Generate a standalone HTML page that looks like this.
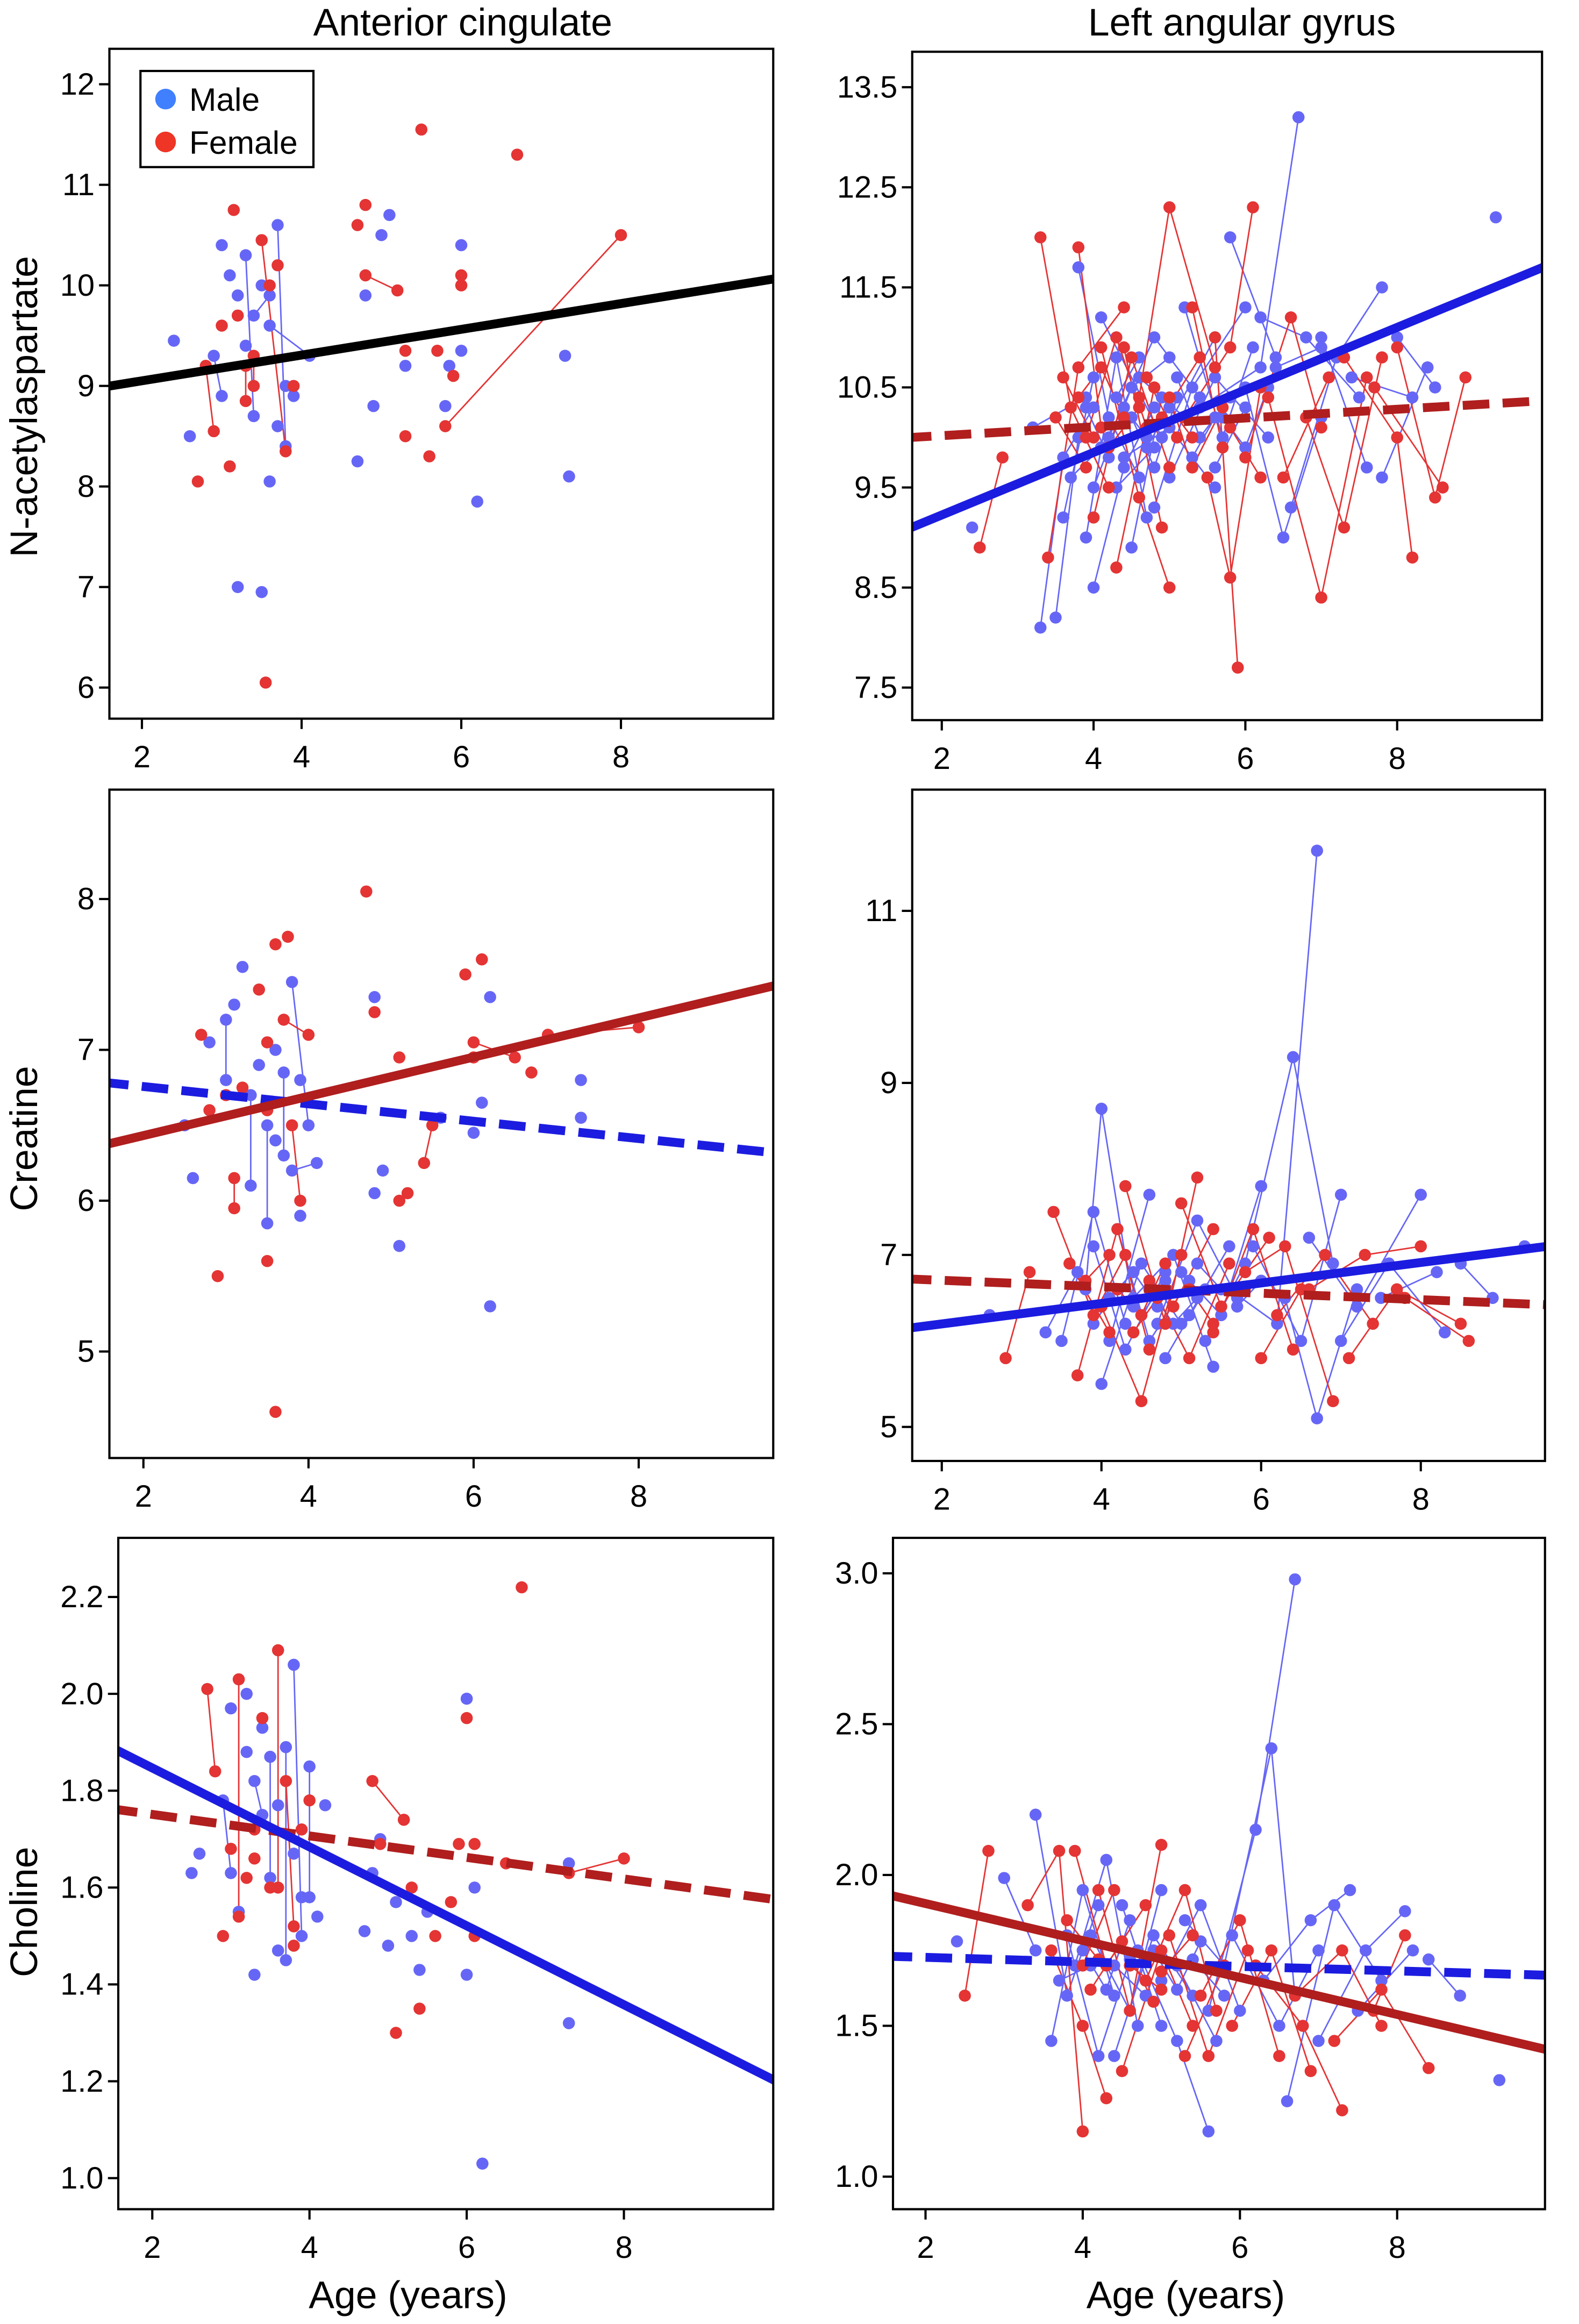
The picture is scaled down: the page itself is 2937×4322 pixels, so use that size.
<!DOCTYPE html>
<html><head><meta charset="utf-8">
<style>
html,body{margin:0;padding:0;background:#fff;}
svg{display:block;}
text{font-family:"Liberation Sans",sans-serif;fill:#000;}
</style></head>
<body>
<svg id="chart" xmlns="http://www.w3.org/2000/svg" width="2937" height="4322" viewBox="0 0 1068 1571.64">
<rect width="1068" height="1571.64" fill="#fff"/>
<text x="313" y="24" font-size="26" text-anchor="middle">Anterior cingulate</text>
<text x="840" y="24" font-size="26" text-anchor="middle">Left angular gyrus</text>
<text transform="translate(25,275) rotate(-90)" font-size="26" text-anchor="middle">N-acetylaspartate</text>
<text transform="translate(25,770) rotate(-90)" font-size="26" text-anchor="middle">Creatine</text>
<text transform="translate(25,1293) rotate(-90)" font-size="26" text-anchor="middle">Choline</text>
<text x="276" y="1561" font-size="26" text-anchor="middle">Age (years)</text>
<text x="802" y="1561" font-size="26" text-anchor="middle">Age (years)</text>
</svg>
<script>
// ---- data ----
const xTicks = [2,4,6,8];
const ticksA1 = [6,7,8,9,10,11,12];
const ticksB1 = [7.5,8.5,9.5,10.5,11.5,12.5,13.5];
const ticksA2 = [5,6,7,8];
const ticksB2 = [5,7,9,11];
const ticksA3 = [1.0,1.2,1.4,1.6,1.8,2.0,2.2];
const ticksB3 = [1.0,1.5,2.0,2.5,3.0];

const maleA1 = [[[2.4,9.45]],[[2.6,8.5]],[[2.9,9.3],[3.0,8.9]],[[3.0,10.4]],[[3.1,10.1]],[[3.2,9.9]],[[3.3,10.3],[3.4,8.7]],[[3.4,9.7],[3.6,9.9]],[[3.5,10.0]],[[3.6,9.6],[4.1,9.3]],[[3.7,10.6],[3.8,8.4]],[[3.8,9.0],[3.9,8.9]],[[3.7,8.6]],[[3.6,8.05]],[[3.2,7.0]],[[3.5,6.95]],[[3.3,9.4]],[[4.7,8.25]],[[4.8,9.9]],[[4.9,8.8]],[[5.0,10.5]],[[5.1,10.7]],[[5.3,9.2]],[[5.8,8.8]],[[6.0,10.4]],[[6.0,9.35]],[[6.2,7.85]],[[5.85,9.2]],[[7.3,9.3]],[[7.35,8.1]]];
const femaleA1 = [[[2.7,8.05]],[[2.8,9.2],[2.9,8.55]],[[3.0,9.6]],[[3.1,8.2]],[[3.15,10.75]],[[3.2,9.7]],[[3.3,9.2],[3.3,8.85]],[[3.4,9.0],[3.4,9.3]],[[3.5,10.45],[3.8,8.35]],[[3.6,10.0]],[[3.7,10.2]],[[3.9,9.0]],[[3.55,6.05]],[[4.7,10.6]],[[4.8,10.8]],[[4.8,10.1],[5.2,9.95]],[[5.3,9.35]],[[5.5,11.55]],[[5.3,8.5]],[[5.6,8.3]],[[5.7,9.35]],[[6.0,10.0]],[[6.0,10.1]],[[5.9,9.1]],[[5.8,8.6],[8.0,10.5]],[[6.7,11.3]]];
const fitA1 = [{slope:0.128, intercept:8.795, color:'#000', dash:false}];

const maleB1 = [[[3.3,8.1],[3.6,9.8],[4.0,10.3]],[[3.5,8.2],[3.8,10.0]],[[3.8,11.7],[4.2,10.2],[4.6,9.6]],[[4.0,9.5],[4.5,10.5],[5.0,10.8]],[[4.2,10.0],[4.8,11.0],[5.4,10.4]],[[4.4,9.8],[5.0,10.1],[5.6,9.5]],[[4.6,10.6],[5.2,10.2]],[[4.8,9.3],[5.3,10.5],[6.0,11.3]],[[5.0,9.6],[5.6,10.6],[6.3,10.0]],[[5.4,10.3],[6.2,10.7],[6.7,13.2]],[[5.8,12.0],[6.4,10.8]],[[6.0,10.5],[6.5,9.0],[7.0,10.2]],[[6.2,11.2],[6.8,11.0],[7.5,10.4]],[[6.6,9.3],[7.2,10.8],[7.8,11.5]],[[7.0,11.0],[7.6,9.7]],[[7.4,10.6],[8.2,10.4]],[[8.0,11.0],[8.5,10.5]],[[9.3,12.2]],[[2.4,9.1]],[[3.2,10.1],[3.9,10.4]],[[3.9,9.0],[4.3,10.8],[4.7,9.2]],[[4.1,11.2],[4.9,10.0],[5.6,11.0]],[[4.3,9.5],[4.8,9.9]],[[5.2,11.3],[5.7,10.0],[6.1,10.9]],[[5.6,9.7],[6.0,10.3]],[[6.4,10.7],[7.0,10.9]],[[3.6,9.2],[4.0,10.6]],[[4.5,8.9],[4.9,10.4]],[[7.8,9.6],[8.4,10.7]],[[4.0,8.5],[4.4,9.7],[4.8,10.3]],[[4.1,9.9],[4.4,10.3],[4.7,10.0]],[[4.5,10.2],[4.8,9.7],[5.1,10.4]],[[5.1,10.6],[5.4,10.0],[5.8,10.4]],[[3.9,10.3],[4.2,9.8]],[[4.7,9.9],[5.0,10.3]],[[5.7,10.2],[6.0,9.9],[6.3,10.5]],[[4.3,10.4],[4.6,10.8]],[[3.7,9.6],[4.1,9.9]],[[5.3,9.8],[5.6,10.2]]];
const femaleB1 = [[[2.5,8.9],[2.8,9.8]],[[3.3,12.0],[3.7,10.3],[4.2,9.5]],[[3.4,8.8],[3.8,10.7],[4.4,11.3]],[[3.8,11.9],[4.1,10.1]],[[4.0,9.2],[4.5,10.8],[5.0,9.7]],[[4.3,8.7],[4.8,10.5],[5.3,10.0]],[[4.6,10.4],[5.0,12.3],[5.6,10.7]],[[4.1,10.9],[4.6,9.4],[5.0,8.5]],[[5.2,10.2],[5.8,10.9],[6.1,12.3]],[[5.5,9.6],[5.8,8.6],[6.2,10.5]],[[5.6,11.0],[5.9,7.7]],[[6.0,9.8],[6.6,11.2],[7.0,10.1]],[[6.3,10.4],[7.0,8.4],[7.6,10.6]],[[6.8,10.2],[7.3,9.1],[7.8,10.8]],[[7.3,10.8],[8.0,10.0],[8.2,8.8]],[[7.7,10.5],[8.6,9.5]],[[8.0,10.9],[8.5,9.4],[8.9,10.6]],[[3.6,10.6],[4.0,10.0]],[[4.4,10.9],[4.9,9.1]],[[4.9,10.2],[5.4,10.8]],[[5.3,11.3],[5.7,9.9]],[[3.9,10.0],[4.3,11.0],[4.7,10.1]],[[6.5,9.6],[7.1,10.6]],[[3.8,10.4],[4.1,10.7],[4.4,10.2]],[[4.2,9.9],[4.6,10.3]],[[4.7,10.6],[5.1,10.0]],[[5.0,10.4],[5.3,9.7],[5.7,10.3]],[[3.5,10.2],[3.9,9.7]],[[5.8,10.1],[6.2,9.6]]];
const fitB1 = [{slope:0.044, intercept:9.93, color:'#b01e1e', dash:true},{slope:0.3125, intercept:8.6, color:'#1c1ce0', dash:false}];

const maleA2 = [[[2.5,6.5]],[[2.6,6.15]],[[2.8,7.05]],[[3.0,7.2],[3.0,6.8]],[[3.1,7.3]],[[3.2,7.55]],[[3.3,6.7],[3.3,6.1]],[[3.4,6.9]],[[3.5,6.5],[3.5,5.85]],[[3.6,6.4]],[[3.6,7.0]],[[3.7,6.85],[3.7,6.3]],[[3.8,7.45],[4.0,6.5]],[[3.9,6.8]],[[4.1,6.25],[3.8,6.2]],[[3.9,5.9]],[[4.8,7.35]],[[4.8,6.05]],[[4.9,6.2]],[[5.1,5.7]],[[5.6,6.55]],[[6.0,6.45]],[[6.1,6.65]],[[6.2,7.35]],[[6.2,5.3]],[[7.3,6.55]],[[7.3,6.8]]];
const femaleA2 = [[[2.7,7.1]],[[2.8,6.6]],[[2.9,5.5]],[[3.0,6.7]],[[3.1,6.15],[3.1,5.95]],[[3.2,6.75]],[[3.4,7.4]],[[3.5,6.6]],[[3.5,5.6]],[[3.6,7.7]],[[3.7,7.2],[4.0,7.1]],[[3.75,7.75]],[[3.8,6.5],[3.9,6.0]],[[3.5,7.05]],[[3.6,4.6]],[[4.7,8.05]],[[4.8,7.25]],[[5.1,6.95]],[[5.1,6.0],[5.2,6.05]],[[5.4,6.25],[5.5,6.5]],[[5.9,7.5]],[[6.0,7.05],[6.5,6.95]],[[6.1,7.6]],[[6.0,6.95]],[[6.7,6.85]],[[6.9,7.1],[8.0,7.15]]];
const fitA2 = [{slope:-0.0575, intercept:6.872, color:'#1c1ce0', dash:true},{slope:0.13, intercept:6.172, color:'#b01e1e', dash:false}];

const maleB2 = [[[3.5,6.0],[3.9,7.5],[4.3,6.2]],[[3.8,6.6],[4.0,8.7],[4.4,6.4]],[[4.0,5.5],[4.5,6.9],[5.0,6.2]],[[4.2,7.3],[4.6,6.0],[5.1,6.7]],[[4.4,6.5],[4.9,7.0],[5.4,5.7]],[[4.7,6.2],[5.2,7.4],[5.7,6.5]],[[5.0,6.8],[5.5,6.3],[6.0,7.8]],[[5.3,6.0],[5.8,6.9],[6.4,9.3],[6.9,6.9]],[[5.6,6.6],[6.2,6.2],[6.7,11.7]],[[5.9,7.1],[6.5,6.0],[7.0,7.7]],[[6.3,6.5],[6.7,5.1],[7.2,6.6]],[[6.6,7.2],[7.2,6.4],[8.0,7.7]],[[7.0,6.0],[7.6,6.9],[8.3,6.1]],[[7.5,6.5],[8.2,6.8]],[[3.3,6.1],[3.7,6.8]],[[4.1,6.0],[4.6,7.7]],[[4.8,5.8],[5.3,6.6]],[[8.5,6.9],[8.9,6.5]],[[9.3,7.1]],[[2.6,6.3]],[[3.9,7.1],[4.3,5.9],[4.8,6.8]],[[5.1,6.3],[5.6,7.1]],[[4.1,6.5],[4.4,6.8],[4.7,6.4]],[[4.6,6.6],[4.9,6.2],[5.2,6.5]],[[5.2,6.9],[5.5,6.6]],[[3.9,6.2],[4.2,6.6]],[[4.5,6.3],[4.8,6.7]],[[5.7,6.4],[6.0,6.7]]];
const femaleB2 = [[[2.8,5.8],[3.1,6.8]],[[3.4,7.5],[3.9,6.3],[4.3,7.0]],[[3.7,5.6],[4.2,7.3],[4.6,5.9]],[[4.0,6.4],[4.5,5.3],[5.0,7.0]],[[4.3,7.8],[4.8,6.2],[5.2,7.9]],[[4.6,6.7],[5.1,5.8],[5.6,6.9]],[[5.0,7.6],[5.5,6.4],[6.1,7.2]],[[5.4,6.1],[5.9,7.3],[6.4,5.9]],[[5.8,6.8],[6.3,7.1],[6.9,5.3]],[[6.2,6.3],[6.8,7.0],[7.4,6.2]],[[6.6,6.6],[7.3,7.0],[8.0,7.1]],[[7.1,5.8],[7.7,6.6],[8.5,6.2]],[[7.8,6.5],[8.6,6.0]],[[3.6,6.9],[4.1,6.1]],[[4.9,6.4],[5.4,7.3]],[[6.0,5.8],[6.5,6.6]],[[4.2,6.6],[4.5,6.3],[4.8,6.9]],[[4.4,6.1],[4.7,6.5]],[[5.1,6.6],[5.4,6.2]],[[3.8,6.7],[4.1,7.0]]];
const fitB2 = [{slope:-0.0375, intercept:6.78, color:'#b01e1e', dash:true},{slope:0.119, intercept:5.96, color:'#1c1ce0', dash:false}];

const maleA3 = [[[2.5,1.63]],[[2.6,1.67]],[[2.9,1.78],[3.0,1.63]],[[3.0,1.97]],[[3.1,1.55]],[[3.2,2.0]],[[3.3,1.42]],[[3.3,1.82],[3.4,1.75]],[[3.4,1.93]],[[3.5,1.87],[3.5,1.62]],[[3.6,1.47]],[[3.6,1.77]],[[3.7,1.89],[3.7,1.45]],[[3.8,2.06],[3.9,1.5]],[[3.8,1.67]],[[3.9,1.58]],[[4.0,1.85],[4.0,1.58]],[[4.1,1.54]],[[4.2,1.77]],[[4.7,1.51]],[[4.8,1.63]],[[4.9,1.7]],[[5.0,1.48]],[[5.1,1.57]],[[5.3,1.5]],[[5.4,1.43]],[[5.5,1.55]],[[6.0,1.99]],[[6.0,1.42]],[[6.1,1.6]],[[6.2,1.03]],[[7.3,1.32]],[[7.3,1.65]],[[3.2,1.88]]];
const femaleA3 = [[[2.7,2.01],[2.8,1.84]],[[2.9,1.5]],[[3.0,1.68]],[[3.1,2.03],[3.1,1.54]],[[3.2,1.62]],[[3.3,1.72]],[[3.4,1.95]],[[3.5,1.6]],[[3.6,2.09],[3.6,1.6]],[[3.7,1.82],[3.8,1.52]],[[3.8,1.48]],[[3.9,1.72]],[[4.0,1.78]],[[4.8,1.82],[5.2,1.74]],[[4.9,1.69]],[[5.1,1.3]],[[5.3,1.6]],[[5.4,1.35]],[[5.6,1.5]],[[5.8,1.57]],[[5.9,1.69]],[[6.0,1.95]],[[6.1,1.69]],[[6.1,1.5]],[[6.5,1.65]],[[6.7,2.22]],[[7.3,1.63],[8.0,1.66]],[[3.3,1.66]]];
const fitA3 = [{slope:-0.0222, intercept:1.7955, color:'#b01e1e', dash:true},{slope:-0.0815, intercept:2.01, color:'#1c1ce0', dash:false}];

const maleB3 = [[[2.4,1.78]],[[3.0,1.99],[3.4,1.75]],[[3.4,2.2],[3.8,1.6],[4.2,1.9]],[[3.6,1.45],[4.0,1.95],[4.4,1.6]],[[3.9,1.7],[4.3,2.05],[4.7,1.5]],[[4.1,1.8],[4.6,1.55],[5.0,1.95]],[[4.4,1.4],[4.9,1.8],[5.4,1.6]],[[4.7,1.75],[5.2,1.45],[5.6,1.15]],[[5.0,1.65],[5.5,1.9],[6.0,1.55]],[[5.3,1.85],[5.8,1.7],[6.4,2.42],[6.7,1.6]],[[5.6,1.55],[6.2,2.15],[6.7,2.98]],[[5.9,1.8],[6.5,1.5],[7.0,1.75]],[[6.3,1.65],[6.9,1.85],[7.4,1.95]],[[6.6,1.25],[7.2,1.9],[7.8,1.65]],[[7.0,1.45],[7.6,1.75],[8.1,1.88]],[[7.5,1.55],[8.2,1.75]],[[8.4,1.72],[8.8,1.6]],[[9.3,1.32]],[[3.8,1.8],[4.2,1.4],[4.6,1.72]],[[4.5,1.9],[5.0,1.5]],[[5.2,1.7],[5.7,1.45]],[[4.0,1.75],[4.3,1.62],[4.6,1.85]],[[4.4,1.7],[4.8,1.6]],[[4.9,1.75],[5.2,1.62],[5.5,1.78]],[[3.7,1.65],[4.1,1.7]],[[5.4,1.72],[5.8,1.6]]];
const femaleB3 = [[[2.5,1.6],[2.8,2.08]],[[3.3,1.9],[3.7,2.08],[4.0,1.15]],[[3.6,1.75],[4.0,1.5],[4.3,1.26]],[[3.9,2.08],[4.3,1.7],[4.8,1.9]],[[4.2,1.95],[4.6,1.55],[5.0,2.1]],[[4.5,1.35],[5.0,1.75],[5.4,1.5]],[[4.8,1.65],[5.3,1.95],[5.7,1.55]],[[5.1,1.8],[5.6,1.4],[6.1,1.75]],[[5.5,1.6],[6.0,1.85],[6.5,1.4]],[[5.9,1.5],[6.4,1.75],[6.9,1.35]],[[6.2,1.7],[6.8,1.5],[7.3,1.22]],[[6.7,1.6],[7.3,1.75],[7.8,1.5]],[[7.2,1.45],[7.8,1.62],[8.4,1.36]],[[7.7,1.55],[8.1,1.8]],[[4.0,1.7],[4.4,1.95]],[[5.3,1.4],[5.8,1.7]],[[4.1,1.62],[4.5,1.78],[4.9,1.58]],[[4.6,1.7],[5.0,1.62]],[[3.8,1.85],[4.2,1.72]],[[5.0,1.68],[5.4,1.8]]];
const fitB3 = [{slope:-0.0075, intercept:1.742, color:'#1c1ce0', dash:true},{slope:-0.0613, intercept:2.028, color:'#b01e1e', dash:false}];

// ---- layout ----
const NS = 'http://www.w3.org/2000/svg';
const svg = document.getElementById('chart');
const MALE = '#6666f6', FEMALE = '#e43434';
function mk(tag, attrs, parent){ const e = document.createElementNS(NS, tag); for (const k in attrs) e.setAttribute(k, attrs[k]); (parent||svg).appendChild(e); return e; }

const panels = [
  {id:'naa-anterior-cingulate', box:[74,33,523,486], xp:[2,96,8,420], yp:[12,57,6,465], yt:ticksA1, dec:0, male:maleA1, female:femaleA1, fits:fitA1, legend:true},
  {id:'naa-left-angular', box:[617,35,1043,487], xp:[2,637,8,945], yp:[13.5,59,7.5,465], yt:ticksB1, dec:1, male:maleB1, female:femaleB1, fits:fitB1},
  {id:'creatine-anterior-cingulate', box:[74,534,523,986], xp:[2,97,8,432], yp:[8,608,5,914], yt:ticksA2, dec:0, male:maleA2, female:femaleA2, fits:fitA2},
  {id:'creatine-left-angular', box:[617,534,1045,988], xp:[2,637,8,961], yp:[11,616,5,965], yt:ticksB2, dec:0, male:maleB2, female:femaleB2, fits:fitB2},
  {id:'choline-anterior-cingulate', box:[80,1040,523,1494], xp:[2,103,8,422], yp:[2.2,1080,1.0,1473], yt:ticksA3, dec:1, male:maleA3, female:femaleA3, fits:fitA3},
  {id:'choline-left-angular', box:[604,1040,1045,1494], xp:[2,626,8,945], yp:[3.0,1064,1.0,1472], yt:ticksB3, dec:1, male:maleB3, female:femaleB3, fits:fitB3}
];

panels.forEach((p, pi) => {
  const [x0,y0,x1,y1] = p.box;
  const sx = v => p.xp[1] + (v - p.xp[0]) * (p.xp[3]-p.xp[1])/(p.xp[2]-p.xp[0]);
  const sy = v => p.yp[1] + (v - p.yp[0]) * (p.yp[3]-p.yp[1])/(p.yp[2]-p.yp[0]);
  const ix = px => p.xp[0] + (px - p.xp[1]) * (p.xp[2]-p.xp[0])/(p.xp[3]-p.xp[1]);
  const g = mk('g', {});
  
  
  const cp = mk('clipPath', {id:'clip'+pi}, g);
  mk('rect', {x:x0, y:y0, width:x1-x0, height:y1-y0}, cp);
  const plot = mk('g', {'clip-path':'url(#clip'+pi+')'}, g);

  [['male', p.male, MALE], ['female', p.female, FEMALE]].forEach(([sex, subs, col]) => {
    subs.forEach(s => {
      if (s.length > 1) {
        const pl = mk('polyline', {points: s.map(d => sx(d[0])+','+sy(d[1])).join(' '), fill:'none', stroke:col, 'stroke-width':1}, plot);
        
        
      }
    });
  });
  [['male', p.male, MALE], ['female', p.female, FEMALE]].forEach(([sex, subs, col]) => {
    subs.forEach(s => s.forEach(d => {
      const c = mk('circle', {cx:sx(d[0]), cy:sy(d[1]), r:4.1, fill:col}, plot);
      
      
    }));
  });
  p.fits.forEach(f => {
    const a = ix(x0-5), b = ix(x1+5);
    const ln = mk('line', {x1:sx(a), y1:sy(f.intercept+f.slope*a), x2:sx(b), y2:sy(f.intercept+f.slope*b), stroke:f.color, 'stroke-width':6, 'stroke-dasharray': f.dash ? '18,9' : 'none'}, plot);
    
    
  });
  const fr = mk('rect', {x:x0, y:y0, width:x1-x0, height:y1-y0, fill:'none', stroke:'#000', 'stroke-width':1.5}, g);
  
  
  p.yt.forEach(t => {
    const y = sy(t);
    mk('line', {x1:x0-7, x2:x0, y1:y, y2:y, stroke:'#000', 'stroke-width':1.5}, g);
    const tx = mk('text', {x:x0-10, y:y+7, 'font-size':21, 'text-anchor':'end'}, g);
    tx.textContent = t.toFixed(p.dec);
    
    
  });
  xTicks.forEach(t => {
    const x = sx(t);
    mk('line', {x1:x, x2:x, y1:y1, y2:y1+7, stroke:'#000', 'stroke-width':1.5}, g);
    const tx = mk('text', {x:x, y:y1+33, 'font-size':21, 'text-anchor':'middle'}, g);
    tx.textContent = String(t);
    
    
  });
  if (p.legend) {
    const lg = mk('g', {}, g);
    
    
    mk('rect', {x:95, y:48, width:117, height:65, fill:'#fff', stroke:'#000', 'stroke-width':1.5}, lg);
    mk('circle', {cx:112, cy:67, r:7, fill:'#4080ff'}, lg);
    mk('circle', {cx:112, cy:96, r:7, fill:'#ee3526'}, lg);
    const t1 = mk('text', {x:128, y:75, 'font-size':22}, lg); t1.textContent = 'Male';
    
    
    const t2 = mk('text', {x:128, y:104, 'font-size':22}, lg); t2.textContent = 'Female';
    
    
  }
});
</script>
</body></html>
